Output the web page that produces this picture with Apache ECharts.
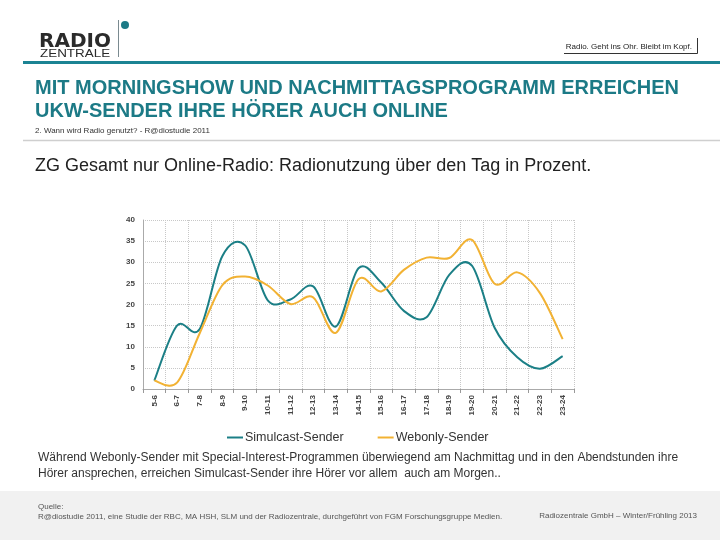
<!DOCTYPE html>
<html><head><meta charset="utf-8">
<script src="https://cdn.jsdelivr.net/npm/echarts@6/dist/echarts.min.js"></script>
<style>html,body{margin:0;padding:0;background:#fff}#c{width:720px;height:540px}</style>
</head><body><div id="c"></div>
<script>
const categories = ['5-6','6-7','7-8','8-9','9-10','10-11','11-12','12-13','13-14','14-15','15-16','16-17','17-18','18-19','19-20','20-21','21-22','22-23','23-24'];
const simulcast = [2, 15, 14.2, 31.5, 34, 21, 21.2, 24.3, 14.8, 28.6, 25.2, 18.5, 17, 27, 29.2, 14.5, 7.5, 4.8, 7.8];
const webonly = [2, 1.5, 13.2, 24.6, 26.6, 24.5, 20.1, 21.7, 13.3, 26, 23.1, 28.2, 31.1, 31, 35.3, 24.9, 27.6, 22.7, 11.8];
const yTicks = [0, 5, 10, 15, 20, 25, 30, 35, 40];
const seriesNames = ['Simulcast-Sender', 'Webonly-Sender'];

const TEAL = '#1b7f86', ORANGE = '#f2b233', HEAD = '#1c7a86';
const F = 'Liberation Sans, Arial, sans-serif';
const chart = echarts.init(document.getElementById('c'));

function splineSeries(name, values, color) {
  return {
    name: name, type: 'custom', coordinateSystem: 'cartesian2d',
    data: values.map((v, i) => [i, v]),
    itemStyle: {color: color},
    encode: {x: 0, y: 1},
    renderItem: function (params, api) {
      if (params.dataIndex !== 0) return null;
      const p = values.map((v, i) => api.coord([i, v]));
      let d = 'M' + p[0][0] + ' ' + p[0][1];
      for (let i = 0; i < p.length - 1; i++) {
        const p0 = p[Math.max(i - 1, 0)], p1 = p[i], p2 = p[i + 1], p3 = p[Math.min(i + 2, p.length - 1)];
        const c1x = p1[0] + (p2[0] - p0[0]) / 6, c1y = p1[1] + (p2[1] - p0[1]) / 6;
        const c2x = p2[0] - (p3[0] - p1[0]) / 6, c2y = p2[1] - (p3[1] - p1[1]) / 6;
        d += ' C' + c1x + ' ' + c1y + ' ' + c2x + ' ' + c2y + ' ' + p2[0] + ' ' + p2[1];
      }
      return {type: 'path', shape: {pathData: d}, style: {stroke: color, lineWidth: 2, fill: 'none'}};
    }
  };
}

chart.setOption({
  animation: false,
  backgroundColor: '#fff',
  textStyle: {fontFamily: F},
  graphic: [
    {type:'rect', shape:{x:0,y:491,width:720,height:49}, style:{fill:'#f1f1f1'}},
    {type:'text', left:39, top:32, style:{text:'RADIO', font:'bold 20px DejaVu Sans, sans-serif', fill:'#2b2b2b'}},
    {type:'text', x:40, y:48, scaleX:1.22, style:{text:'ZENTRALE', font:'11px '+F, fill:'#2b2b2b'}},
    {type:'line', shape:{x1:118.5,y1:20,x2:118.5,y2:57}, style:{stroke:'#7a8a90', lineWidth:1}},
    {type:'circle', shape:{cx:125,cy:25,r:4}, style:{fill:HEAD}},
    {type:'rect', shape:{x:23,y:61,width:697,height:3}, style:{fill:'#1b8393'}},
    {type:'text', right:28, top:43, style:{text:'Radio. Geht ins Ohr. Bleibt im Kopf.', font:'8px '+F, fill:'#222'}},
    {type:'polyline', shape:{points:[[564,53.5],[697.5,53.5],[697.5,38]]}, style:{stroke:'#333', lineWidth:1, fill:null}},
    {type:'text', left:35, top:77, style:{text:'MIT MORNINGSHOW UND NACHMITTAGSPROGRAMM ERREICHEN\nUKW-SENDER IHRE HÖRER AUCH ONLINE', font:'bold 20px '+F, fill:HEAD, lineHeight:23}},
    {type:'text', left:35, top:127, style:{text:'2. Wann wird Radio genutzt? - R@diostudie 2011', font:'8px '+F, fill:'#333'}},
    {type:'line', shape:{x1:23,y1:140.5,x2:720,y2:140.5}, style:{stroke:'#cfcfcf', lineWidth:1.5}},
    {type:'text', left:35, top:157, style:{text:'ZG Gesamt nur Online-Radio: Radionutzung über den Tag in Prozent.', font:'18px '+F, fill:'#222'}},
    {type:'text', left:38, top:450, style:{text:'Während Webonly-Sender mit Special-Interest-Programmen überwiegend am Nachmittag und in den Abendstunden ihre\nHörer ansprechen, erreichen Simulcast-Sender ihre Hörer vor allem  auch am Morgen..', font:'12px '+F, fill:'#333', lineHeight:16}},
    {type:'text', left:38, top:502, style:{text:'Quelle:\nR@diostudie 2011, eine Studie der RBC, MA HSH, SLM und der Radiozentrale, durchgeführt von FGM Forschungsgruppe Medien.', font:'8px '+F, fill:'#555', lineHeight:10}},
    {type:'text', right:23, top:512, style:{text:'Radiozentrale GmbH – Winter/Frühling 2013', font:'8px '+F, fill:'#555'}}
  ],
  legend: {
    top: 426, left: 222,
    data: seriesNames,
    icon: 'rect', itemWidth: 16, itemHeight: 2, itemGap: 34,
    textStyle: {fontSize: 12.5, color: '#333', fontFamily: F, padding: [0, 0, 0, -3]}
  },
  grid: {left: 143, right: 146, top: 220, bottom: 151, containLabel: false},
  xAxis: {
    type: 'category', data: categories, boundaryGap: true,
    axisLine: {lineStyle: {color: '#aaa'}},
    axisTick: {show: true, length: 4, lineStyle: {color: '#999'}},
    axisLabel: {rotate: 90, fontSize: 8, color: '#444', margin: 6, interval: 0, fontWeight: 'bold'},
    splitLine: {show: true, lineStyle: {color: '#c8c8c8', type: 'dotted'}}
  },
  yAxis: {
    type: 'value', min: 0, max: 40, interval: 5,
    axisLine: {show: true, lineStyle: {color: '#aaa'}},
    axisTick: {show: false},
    axisLabel: {fontSize: 8, color: '#444', margin: 8, fontWeight: 'bold',
      formatter: v => yTicks.includes(v) ? String(v) : ''},
    splitLine: {show: true, lineStyle: {color: '#c8c8c8', type: 'dotted'}}
  },
  series: [
    splineSeries(seriesNames[0], simulcast, TEAL),
    splineSeries(seriesNames[1], webonly, ORANGE)
  ]
});
</script></body></html>
